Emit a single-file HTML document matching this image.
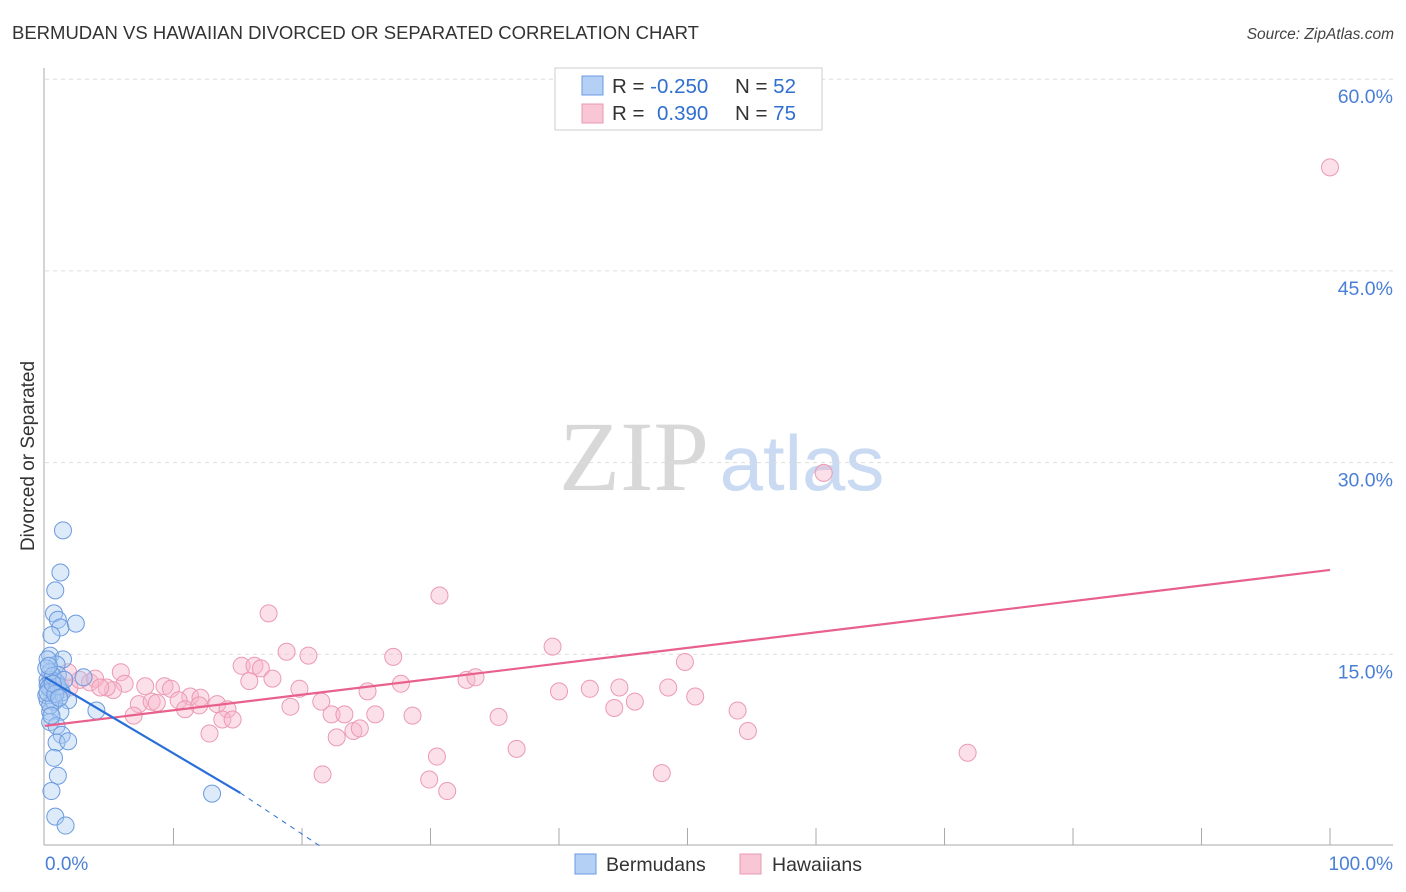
<!DOCTYPE html>
<html><head><meta charset="utf-8"><style>
body{margin:0;background:#fff;font-family:"Liberation Sans",sans-serif;}
</style></head><body>
<svg id="chart" width="1406" height="892" xmlns="http://www.w3.org/2000/svg" style="display:block">
<text x="12" y="39" font-size="18.5" fill="#333">BERMUDAN VS HAWAIIAN DIVORCED OR SEPARATED CORRELATION CHART</text>
<text x="1394" y="39" font-size="15.5" fill="#444" text-anchor="end" font-style="italic">Source: ZipAtlas.com</text>
<text x="634" y="490" font-size="100" fill="#d8d8d8" text-anchor="middle" font-family="Liberation Serif,serif">ZIP</text>
<text x="802" y="490" font-size="78" fill="#c9daf2" text-anchor="middle">atlas</text>
<g id="grid"></g>
<line x1="44" y1="68" x2="44" y2="845" stroke="#aaa"/>
<line x1="44" y1="845" x2="1393" y2="845" stroke="#aaa"/>
<g id="ticks"></g>
<text transform="translate(34,456) rotate(-90)" font-size="19" fill="#333" text-anchor="middle">Divorced or Separated</text>
<text x="45" y="870" font-size="19" fill="#4a7fd6">0.0%</text>
<text x="1393" y="870" font-size="19" fill="#4a7fd6" text-anchor="end">100.0%</text>
<g id="pts"></g>
<g id="trends"></g>
<g>
<rect x="555" y="68" width="267" height="62" fill="#fff" stroke="#ccc"/>
<rect x="582" y="76" width="21" height="19" fill="#b5d0f5" stroke="#6a9ae0"/>
<rect x="582" y="104" width="21" height="19" fill="#f9c6d5" stroke="#e89ab2"/>
<text x="612" y="93" font-size="20.5" fill="#333">R = <tspan fill="#2f6fd0">-0.250</tspan><tspan x="735">N = </tspan><tspan fill="#2f6fd0">52</tspan></text>
<text x="612" y="120" font-size="20.5" fill="#333">R = <tspan x="657" fill="#2f6fd0">0.390</tspan><tspan x="735">N = </tspan><tspan fill="#2f6fd0">75</tspan></text>
</g>
<g>
<rect x="575" y="854" width="21" height="20" fill="#b5d0f5" stroke="#6a9ae0"/>
<text x="606" y="871" font-size="19.5" fill="#333">Bermudans</text></g>
<g>
<rect x="740" y="854" width="21" height="20" fill="#f9c6d5" stroke="#e89ab2"/>
<text x="772" y="871" font-size="19.5" fill="#333">Hawaiians</text></g>
</svg>
<script>
const yTicks=[15,30,45,60];
const yTickLabels=["15.0%","30.0%","45.0%","60.0%"];
const xTicks=[10,20,30,40,50,60,70,80,90,100];
const blueX=[1.4,1.2,0.8,0.7,1.0,1.2,2.4,0.5,0.4,1.4,0.9,0.2,0.4,1.0,3.0,0.2,0.5,1.2,0.2,1.8,4.0,0.4,1.2,0.4,0.9,1.3,0.9,1.8,0.7,1.0,0.5,13.0,0.8,1.6,0.2,0.5,0.1,0.9,1.3,0.1,0.7,0.4,0.3,0.6,0.2,1.0,0.8,0.3,1.5,0.5,0.6,1.1];
const blueY=[24.7,21.4,20.0,18.2,17.7,17.1,17.4,16.5,14.9,14.6,14.2,14.6,13.6,13.4,13.2,13.0,12.2,12.2,11.4,11.4,10.6,10.5,10.5,9.7,9.4,8.7,8.1,8.2,6.9,5.5,4.3,4.1,2.3,1.6,12.6,13.0,13.9,12.8,12.0,11.8,11.3,11.0,12.4,13.3,12.0,12.5,11.9,14.1,13.0,10.2,12.7,11.6];
const pinkX=[30.7,17.4,18.8,20.5,27.1,39.5,15.3,16.3,16.8,15.9,17.7,19.8,5.9,6.2,7.8,9.3,9.8,5.3,4.8,25.1,27.7,32.8,33.5,40.0,7.3,8.3,8.7,11.3,12.1,10.4,10.9,12.0,13.4,14.2,19.1,21.5,6.9,13.8,14.6,22.3,23.3,25.7,28.6,35.3,12.8,22.7,24.0,24.5,36.7,30.5,21.6,29.9,31.3,100,60.6,49.8,42.4,44.7,45.9,48.5,50.6,48.0,53.9,54.7,71.8,44.3,0.4,0.8,1.2,1.9,2.7,3.5,3.9,4.3,1.8];
const pinkY=[19.6,18.2,15.2,14.9,14.8,15.6,14.1,14.1,13.9,12.9,13.1,12.3,13.6,12.7,12.5,12.5,12.3,12.2,12.4,12.1,12.7,13.0,13.2,12.1,11.1,11.3,11.2,11.7,11.6,11.4,10.7,11.0,11.1,10.7,10.9,11.3,10.2,9.9,9.9,10.3,10.3,10.3,10.2,10.1,8.8,8.5,9.0,9.2,7.6,7.0,5.6,5.2,4.3,53.1,29.2,14.4,12.3,12.4,11.3,12.4,11.7,5.7,10.6,9.0,7.3,10.8,13.0,12.2,12.5,12.4,13.0,12.8,13.1,12.4,13.6];
const pinkTrend=[[0,9.4],[100,21.6]];
const blueTrendSolid=[[0,13.2],[15.2,4.15]];
const blueTrendDash=[[15.2,4.15],[21.4,0]];
const NS="http://www.w3.org/2000/svg";
const sx=v=>45+v*12.85, sy=v=>846-v*12.78;
function mk(t,a,p){const e=document.createElementNS(NS,t);for(const k in a)e.setAttribute(k,a[k]);p.appendChild(e);return e;}
const grid=document.getElementById('grid');
yTicks.forEach((v,i)=>{
 const l=mk('line',{x1:45,x2:1393,y1:sy(v),y2:sy(v),stroke:'#ddd','stroke-dasharray':'4,4'},grid);
 
 
 const t=mk('text',{x:1393,y:sy(v)+24,'font-size':19.5,fill:'#4a7fd6','text-anchor':'end'},grid);
 t.textContent=yTickLabels[i];
 
 
});
const tk=document.getElementById('ticks');
xTicks.forEach(v=>{
 const l=mk('line',{x1:sx(v),x2:sx(v),y1:828,y2:845,stroke:'#aaa'},tk);
 
 
});
const pts=document.getElementById('pts');
pinkX.forEach((x,i)=>{
 const c=mk('circle',{cx:sx(x),cy:sy(pinkY[i]),r:8.5,fill:'rgba(248,182,202,0.42)',stroke:'#eb9ab3','stroke-width':1},pts);
 
 
});
blueX.forEach((x,i)=>{
 const c=mk('circle',{cx:sx(x),cy:sy(blueY[i]),r:8.5,fill:'rgba(170,202,242,0.4)',stroke:'#6b9ade','stroke-width':1},pts);
 
 
});
const tr=document.getElementById('trends');
function ln(p,st,w,d,name){const l=mk('line',{x1:sx(p[0][0]),y1:sy(p[0][1]),x2:sx(p[1][0]),y2:sy(p[1][1]),stroke:st,'stroke-width':w},tr);if(d)l.setAttribute('stroke-dasharray',d);
 
 }
ln(pinkTrend,'#e8608c',2.2,null,'hawaiian-trend-line');
ln(blueTrendSolid,'#2a6fd8',2.2,null,'bermudan-trend-line');
ln(blueTrendDash,'#2a6fd8',1,'5,5','bermudan-trend-extension');
</script>
</body></html>
